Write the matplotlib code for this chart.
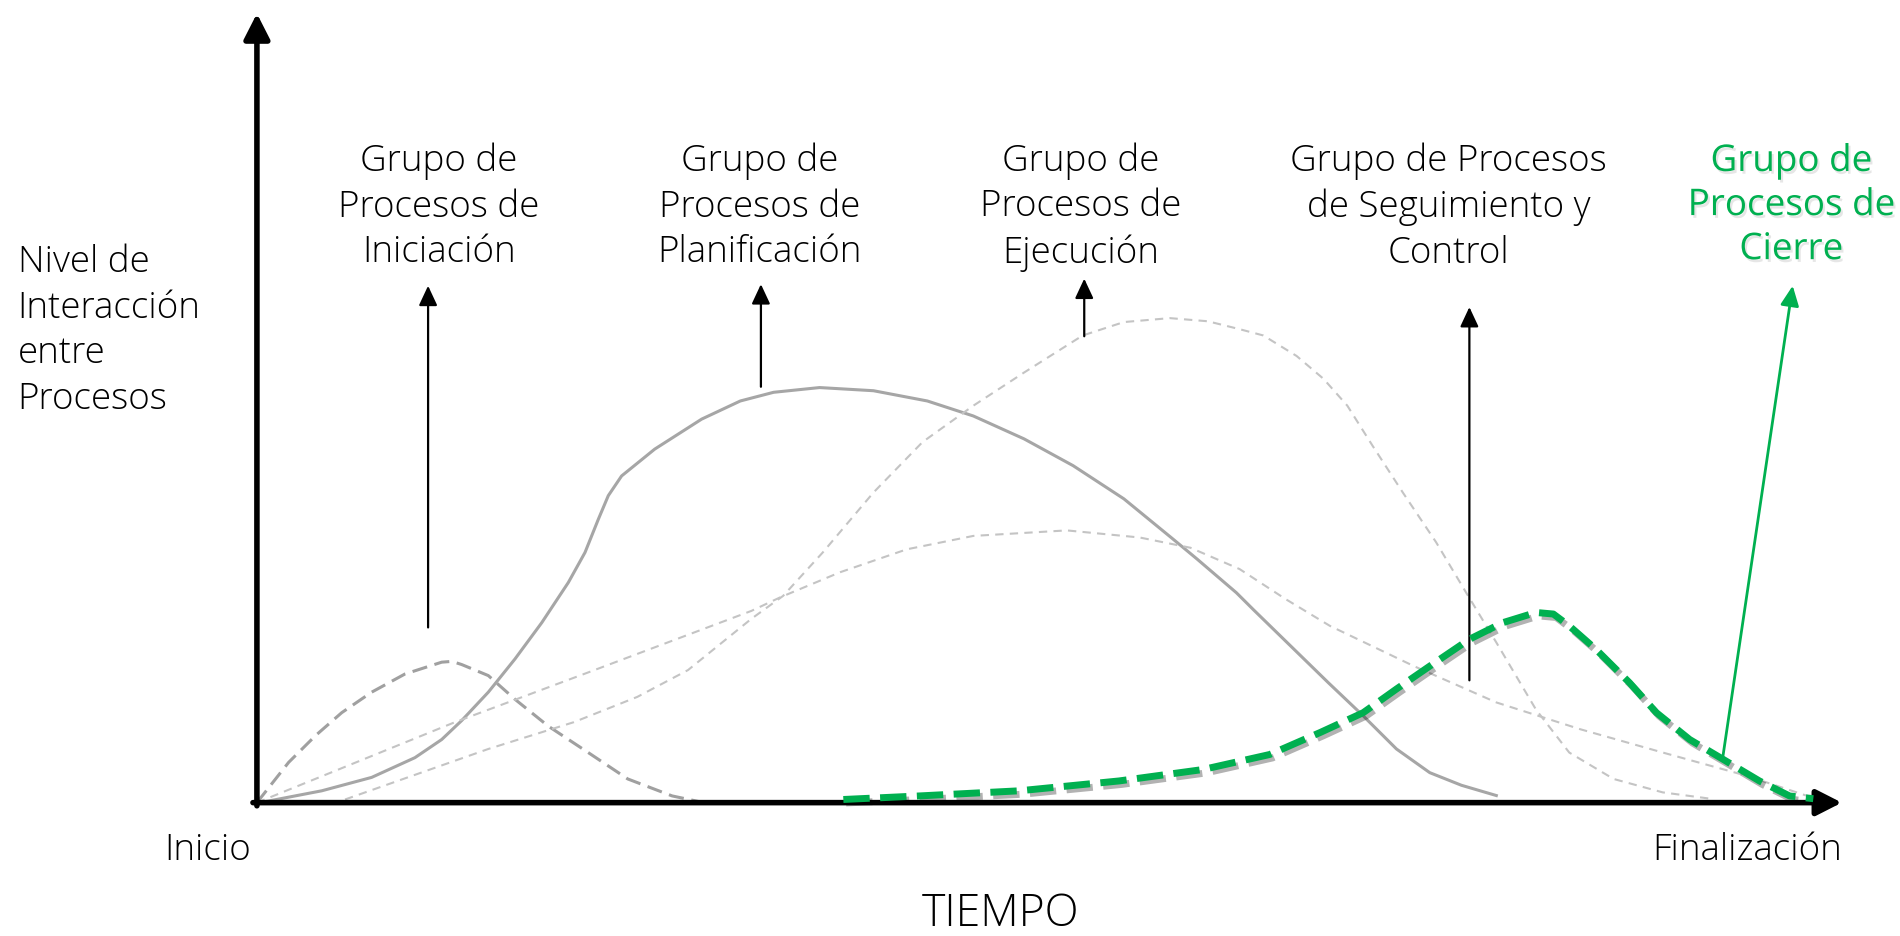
import matplotlib
matplotlib.use("Agg")
import matplotlib.pyplot as plt
import matplotlib.patheffects as pe

# time axis runs 0 (Inicio) -> 100 (Finalización), level 0 -> 100 (top of y arrow)
ini_t = [0, 2.0, 3.7, 5.35, 7.24, 9.34, 11.66, 12.3, 12.92, 14.6, 16.28, 18.38,
         20.9, 23.4, 26.2, 28.2]
ini_l = [0, 5.1, 8.5, 11.4, 14.0, 16.3, 17.8, 17.9, 17.5, 16.1, 13.1, 9.7,
         6.35, 3.0, 0.85, 0]

plan_t = [0, 0.72, 4.09, 7.24, 9.97, 11.66, 12.92, 14.6, 16.28, 17.97, 19.65,
          20.7, 21.54, 22.17, 23.01, 25.1, 28.06, 30.5, 32.6, 35.5, 38.9, 42.3,
          45.2, 48.4, 51.5, 54.7, 57.8, 59.3, 61.8, 62.9, 67.6, 69.8, 71.9, 74.0,
          76.0, 78.2]
plan_l = [0, 0.2, 1.5, 3.2, 5.7, 8.0, 10.4, 14.0, 18.2, 22.8, 27.9,
          31.7, 35.9, 38.9, 41.4, 44.8, 48.6, 50.9, 52.0, 52.6, 52.2, 50.9,
          49.0, 46.1, 42.7, 38.5, 33.4, 30.9, 26.6, 24.4, 15.2, 11.0, 6.8, 3.8,
          2.2, 0.9]

ejec_t = [5.56, 14.6, 20.0, 24.0, 27.2, 31.2, 33.2, 35.7, 38.9, 42.0, 45.2, 48.4,
          52.1, 54.7, 57.6, 60.0, 62.0, 63.5, 65.6, 67.3, 68.8, 70.4, 72.3,
          74.4, 76.3, 78.2, 80.7, 82.8, 85.6, 88.7, 91.7]
ejec_l = [0.4, 6.8, 10.2, 13.4, 16.8, 23.3, 26.2, 31.7, 39.3, 45.7, 50.3, 54.5,
          59.2, 60.9, 61.4, 61.0, 60.0, 59.2, 56.6, 53.7, 50.3, 45.2, 39.3,
          33.0, 26.6, 20.3, 11.8, 6.35, 3.0, 1.3, 0.5]

seg_t = [0, 12.5, 20.9, 31.2, 33.0, 36.8, 41.0, 45.2, 51.1, 55.7, 58.9, 62.0,
         64.9, 67.7, 73.0, 78.2, 83.5, 88.7, 94.0, 98.2]
seg_l = [0, 10.2, 16.5, 24.3, 26.0, 29.2, 32.1, 33.8, 34.5, 33.6, 32.3, 29.6,
         25.8, 22.4, 17.3, 12.7, 9.3, 6.35, 3.4, 0.6]

cierre_t = [37.0, 41.8, 48.1, 54.4, 59.7, 63.9, 67.1, 69.8, 71.9, 74.0, 76.5,
            78.6, 80.7, 81.8, 82.8, 84.5, 86.6, 88.3, 90.4, 92.5, 94.8, 96.7, 98.2]
cierre_l = [0.4, 0.85, 1.5, 2.75, 4.2, 6.1, 8.9, 11.4, 14.4, 17.3, 20.7,
            22.8, 24.1, 23.9, 22.4, 19.4, 15.2, 11.4, 8.0, 5.5, 2.75, 0.85, 0.5]

labels = ["Grupo de\nProcesos de\nIniciación",
          "Grupo de\nProcesos de\nPlanificación",
          "Grupo de\nProcesos de\nEjecución",
          "Grupo de Procesos\nde Seguimiento y\nControl",
          "Grupo de\nProcesos de\nCierre"]
label_t = [11.5, 31.7, 52.0, 75.2, 96.8]
# pointer arrows (start, end) under each label
arrow_t0 = [10.8, 31.8, 52.2, 76.5, 92.5]
arrow_l0 = [22.2, 52.7, 59.1, 15.5, 5.9]
arrow_t1 = [10.8, 31.8, 52.2, 76.5, 96.9]
arrow_l1 = [65.5, 65.7, 66.4, 62.8, 65.5]

GREEN = "#00b050"
FONT = ["Open Sans", "DejaVu Sans"]
FS = 26.5

fig = plt.figure(figsize=(19, 9.37), dpi=100)
ax = fig.add_axes([0, 0, 1, 1])
ax.set_xlim(-16.21, 103.67)
ax.set_ylim(-16.90, 101.84)
ax.axis("off")

# main axes as thick arrows
axis_props = dict(arrowstyle="-|>,head_length=0.55,head_width=0.28", color="black",
                  lw=4, shrinkA=0, shrinkB=0, mutation_scale=28)
ax.annotate("", xy=(0, 100), xytext=(0, -0.4), arrowprops=axis_props)
ax.annotate("", xy=(100, 0), xytext=(-0.25, 0), arrowprops=axis_props)

# process curves
ax.plot(ini_t, ini_l, color="#a0a0a0", lw=2.2, dashes=(5, 2.5))
ax.plot(plan_t, plan_l, color="#a6a6a6", lw=2.2)
ax.plot(ejec_t, ejec_l, color="#c4c4c4", lw=1.5, dashes=(4, 3))
ax.plot(seg_t, seg_l, color="#c4c4c4", lw=1.5, dashes=(4, 3))
ax.plot(cierre_t, cierre_l, color=GREEN, lw=5, dashes=(3.8, 1.5), zorder=5,
        path_effects=[pe.SimpleLineShadow(offset=(2, -2.5), alpha=0.3),
                      pe.Normal()])

# group labels and pointer arrows
for i, txt in enumerate(labels):
    col = GREEN if i == 4 else "black"
    t = ax.text(label_t[i], 75.6, txt, ha="center", va="center", fontsize=FS,
                family=FONT, fontweight="normal" if i == 4 else "light",
                color=col, linespacing=1.3)
    if i == 4:
        t.set_path_effects([pe.withSimplePatchShadow(offset=(1.5, -2), alpha=0.18,
                                                      shadow_rgbFace="#777777")])
    ax.annotate("", xy=(arrow_t1[i], arrow_l1[i]), xytext=(arrow_t0[i], arrow_l0[i]),
                arrowprops=dict(arrowstyle="-|>,head_length=0.6,head_width=0.28",
                                color=col, lw=2 if i == 4 else 1.6,
                                shrinkA=0, shrinkB=0, mutation_scale=20))

ax.text(-15.1, 59.9, "Nivel de\nInteracción\nentre\nProcesos", ha="left", va="center",
        fontsize=FS, family=FONT, fontweight="light", linespacing=1.3)
ax.text(-3.1, -6.0, "Inicio", ha="center", va="center", fontsize=FS,
        family=FONT, fontweight="light")
ax.text(100, -6.0, "Finalización", ha="right", va="center", fontsize=FS,
        family=FONT, fontweight="light")
ax.text(46.9, -14.1, "TIEMPO", ha="center", va="center", fontsize=32,
        family=FONT, fontweight="light")

plt.savefig("out.png", dpi=100)
plt.close(fig)
